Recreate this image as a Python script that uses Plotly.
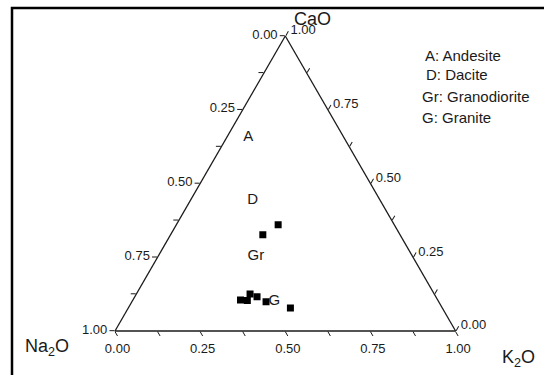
import plotly.graph_objects as go

# ternary components (fractions): CaO (top), Na2O (bottom-left), K2O (bottom-right)
cao = [0.360, 0.326, 0.105, 0.103, 0.125, 0.116, 0.099, 0.078]
na2o = [0.341, 0.403, 0.579, 0.560, 0.541, 0.525, 0.507, 0.446]
k2o = [0.299, 0.271, 0.316, 0.337, 0.334, 0.359, 0.394, 0.476]

field_labels = ["A", "D", "Gr", "G"]
field_cao = [0.656, 0.442, 0.253, 0.102]
field_na2o = [0.281, 0.375, 0.460, 0.481]
field_k2o = [0.063, 0.183, 0.287, 0.417]

legend_lines = ["A: Andesite", "D: Dacite", "Gr: Granodiorite", "G: Granite"]

tick_vals = [0, 0.125, 0.25, 0.375, 0.5, 0.625, 0.75, 0.875, 1.0]
tick_text = ["1.00", "", "0.75", "", "0.50", "", "0.25", "", "0.00"]

FONT = "Liberation Sans, Arial, sans-serif"
INK = "#1a1a1a"

fig = go.Figure()
fig.add_trace(go.Scatterternary(
    a=cao, b=na2o, c=k2o, mode="markers",
    marker=dict(symbol="square", size=7, color="black"),
    showlegend=False, hoverinfo="skip"))
fig.add_trace(go.Scatterternary(
    a=field_cao, b=field_na2o, c=field_k2o, mode="text",
    text=field_labels, textfont=dict(size=15, color=INK, family=FONT),
    showlegend=False, hoverinfo="skip"))

axis_common = dict(
    tickmode="array", tickvals=tick_vals, ticktext=tick_text,
    ticks="outside", ticklen=5, tickwidth=1, tickcolor=INK,
    linecolor=INK, linewidth=1.3, showgrid=False,
    tickfont=dict(size=13, color=INK, family=FONT),
    title=dict(text=""),
)

fig.update_layout(
    width=544, height=375,
    margin=dict(l=0, r=0, t=0, b=0),
    paper_bgcolor="white",
    font=dict(family=FONT, color=INK),
    ternary=dict(
        sum=1,
        domain=dict(x=[0.2114, 0.8375], y=[0.1173, 0.904]),
        bgcolor="white",
        aaxis=axis_common,
        baxis=axis_common,
        caxis=axis_common,
    ),
)

# frame
fig.add_shape(type="rect", xref="paper", yref="paper",
              x0=12 / 544, x1=1.05, y0=-0.05, y1=1 - 8 / 375,
              line=dict(color="black", width=2.5), fillcolor="rgba(0,0,0,0)")

# axis titles (component names at the corners)
axis_titles = ["CaO", "Na<sub>2</sub>O", "K<sub>2</sub>O"]
title_x = [312, 47, 518]
title_y = [19, 347, 358]
for txt, xx, yy in zip(axis_titles, title_x, title_y):
    fig.add_annotation(text=txt, xref="paper", yref="paper",
                       x=xx / 544, y=1 - yy / 375, xanchor="center", yanchor="middle",
                       showarrow=False, font=dict(size=18, family=FONT, color=INK))

legend_y = [55, 75, 96, 117]
legend_x = [423, 424, 420, 420]
for txt, xx, yy in zip(legend_lines, legend_x, legend_y):
    fig.add_annotation(text=txt, xref="paper", yref="paper",
                       x=xx / 544, y=1 - yy / 375, xanchor="left", yanchor="middle",
                       showarrow=False, font=dict(size=15, family=FONT, color=INK))

fig.write_html("out.html", config={"displayModeBar": False},
               post_script="document.body.style.margin='0';")
